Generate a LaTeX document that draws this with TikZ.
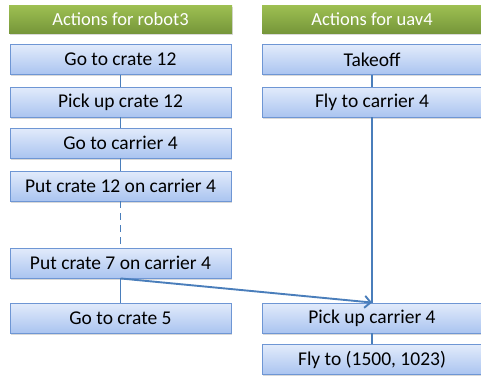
\documentclass[tikz,border=0pt]{standalone}
\usepackage{fontspec}
\setmainfont{Carlito}
\usetikzlibrary{shadows,arrows.meta}
\definecolor{boxtop}{RGB}{226,235,251}
\definecolor{boxbot}{RGB}{170,196,240}
\definecolor{boxline}{RGB}{110,150,212}
\definecolor{headtop}{RGB}{158,192,82}
\definecolor{headbot}{RGB}{118,150,58}
\definecolor{linkcol}{RGB}{74,126,187}
\begin{document}
\begin{tikzpicture}[x=1pt,y=-1pt,
  action/.style={draw=boxline, line width=0.9pt, top color=boxtop, bottom color=boxbot,
    minimum height=30pt, inner sep=0pt, font=\fontsize{19.5}{22}\selectfont,
    drop shadow={shadow xshift=1.2pt, shadow yshift=-1.5pt, opacity=0.3}},
  header/.style={top color=headtop, bottom color=headbot, text=white,
    minimum height=28pt, inner sep=0pt, font=\fontsize{18.5}{21}\selectfont,
    drop shadow={shadow xshift=1.2pt, shadow yshift=-1.5pt, opacity=0.3}},
  leftcol/.style={minimum width=221pt},
  rightcol/.style={minimum width=220pt},
  link/.style={draw=linkcol, line width=1.9pt}]
\useasboundingbox (0,0) rectangle (481,378);

% column headers
\node[header, minimum width=223pt] (hl) at (120.5,19) {Actions for robot3};
\node[header, rightcol] (hr) at (372,19) {Actions for uav4};

% robot3 actions
\node[action, leftcol] (a1) at (120.5,59.5) {Go to crate 12};
\node[action, leftcol] (a2) at (120.5,102) {Pick up crate 12};
\node[action, leftcol] (a3) at (120.5,143) {Go to carrier 4};
\node[action, leftcol] (a4) at (120.5,186) {Put crate 12 on carrier 4};
\node[action, leftcol] (a5) at (120.5,263) {Put crate 7 on carrier 4};
\node[action, leftcol] (a6) at (120.5,318) {Go to crate 5};

% uav4 actions
\node[action, rightcol] (b1) at (372,59.5) {Takeoff};
\node[action, rightcol] (b2) at (372,102) {Fly to carrier 4};
\node[action, rightcol] (b3) at (372,318) {Pick up carrier 4};
\node[action, rightcol] (b4) at (372,359.5) {Fly to (1500, 1023)};

% sequence links
\draw[link] (a1.south) -- (a2.north);
\draw[link] (a2.south) -- (a3.north);
\draw[link] (a3.south) -- (a4.north);
\draw[link, dash pattern=on 7pt off 5pt] (a4.south) -- (a5.north);
\draw[link] (a5.south) -- (a6.north);
\draw[link] (b1.south) -- (b2.north);
\draw[link] (b2.south) -- (b3.north);
\draw[link] (b3.south) -- (b4.north);

% cross-agent dependency
\draw[link, -{Straight Barb[length=6pt,width=12pt]}] (a5.south) -- (b3.north);
\end{tikzpicture}
\end{document}
